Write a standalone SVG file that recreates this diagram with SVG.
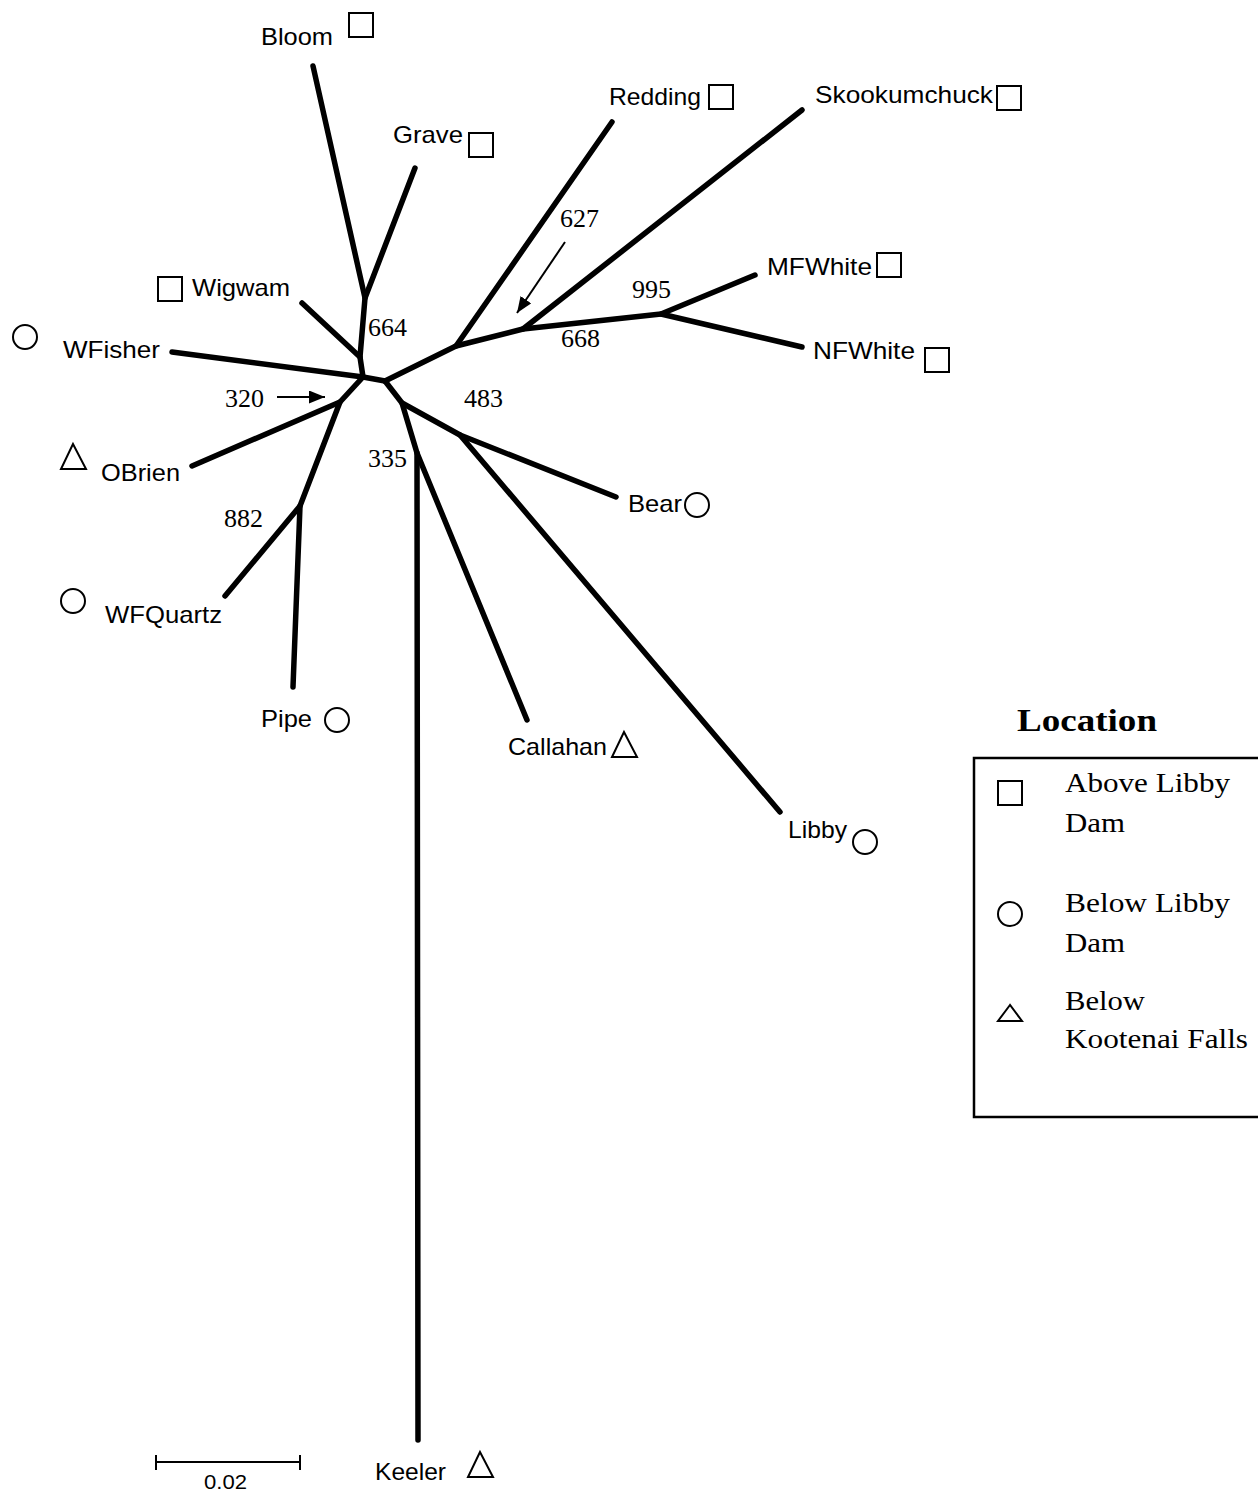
<svg xmlns="http://www.w3.org/2000/svg" width="1258" height="1494" viewBox="0 0 1258 1494">
<style>
.br{fill:none;stroke:#000;stroke-width:5.5;stroke-linecap:round;stroke-linejoin:round}
.lb{font-family:"Liberation Sans",Arial,sans-serif;font-size:24px;fill:#000}
.num{font-family:"Liberation Serif","Times New Roman",serif;font-size:26px;fill:#000}
.lg{font-family:"Liberation Serif","Times New Roman",serif;font-size:28px;fill:#000}
.sym{fill:none;stroke:#000;stroke-width:2}
.ar{stroke:#000;stroke-width:2;fill:none}
</style>
<defs>
<marker id="ah2" viewBox="0 0 16 13" refX="16" refY="6.5" markerWidth="16" markerHeight="13" markerUnits="userSpaceOnUse" orient="auto">
<path d="M0,0 L16,6.5 L0,13 z" fill="#000"/>
</marker>
</defs>
<rect width="1258" height="1494" fill="#fff"/>

<g id="connectors">
<polyline class="br" points="363,377 385,381"/>
<polyline class="br" points="363,377 360,357 365,298 313,66"/>
<polyline class="br" points="365,298 415,168"/>
<polyline class="br" points="360,357 302,303"/>
<polyline class="br" points="363,377 172,352"/>
<polyline class="br" points="363,377 340,402 192,466"/>
<polyline class="br" points="340,402 300,506 225,596"/>
<polyline class="br" points="300,506 293,687"/>
<polyline class="br" points="385,381 456,346 612,122"/>
<polyline class="br" points="456,346 523,329 802,110"/>
<polyline class="br" points="523,329 661,314 755,275"/>
<polyline class="br" points="661,314 802,347"/>
<polyline class="br" points="385,381 402,403 460,435 616,497"/>
<polyline class="br" points="460,435 780,812"/>
<polyline class="br" points="402,403 417,453 527,720"/>
<polyline class="br" points="417,453 418,1440"/>
<line class="ar" x1="277" y1="397" x2="325" y2="397" marker-end="url(#ah2)"/>
<line class="ar" x1="565" y1="242" x2="517" y2="313" marker-end="url(#ah2)"/>
</g>

<g id="node-bloom"><text class="lb" x="261" y="45" textLength="72" lengthAdjust="spacingAndGlyphs">Bloom</text><rect class="sym" x="349" y="13" width="24" height="24"/></g>
<g id="node-grave"><text class="lb" x="393" y="143" textLength="70" lengthAdjust="spacingAndGlyphs">Grave</text><rect class="sym" x="469" y="133" width="24" height="24"/></g>
<g id="node-redding"><text class="lb" x="609" y="105" textLength="92" lengthAdjust="spacingAndGlyphs">Redding</text><rect class="sym" x="709" y="85" width="24" height="24"/></g>
<g id="node-skookumchuck"><text class="lb" x="815" y="103" textLength="178" lengthAdjust="spacingAndGlyphs">Skookumchuck</text><rect class="sym" x="997" y="86" width="24" height="24"/></g>
<g id="node-mfwhite"><text class="lb" x="767" y="275" textLength="105" lengthAdjust="spacingAndGlyphs">MFWhite</text><rect class="sym" x="877" y="253" width="24" height="24"/></g>
<g id="node-nfwhite"><text class="lb" x="813" y="359" textLength="102" lengthAdjust="spacingAndGlyphs">NFWhite</text><rect class="sym" x="925" y="348" width="24" height="24"/></g>
<g id="node-wigwam"><rect class="sym" x="158" y="277" width="24" height="24"/><text class="lb" x="192" y="296" textLength="98" lengthAdjust="spacingAndGlyphs">Wigwam</text></g>
<g id="node-wfisher"><circle class="sym" cx="25" cy="337" r="12"/><text class="lb" x="63" y="358" textLength="97" lengthAdjust="spacingAndGlyphs">WFisher</text></g>
<g id="node-obrien"><polygon class="sym" points="73,444 61,469 86,469"/><text class="lb" x="101" y="481" textLength="79" lengthAdjust="spacingAndGlyphs">OBrien</text></g>
<g id="node-wfquartz"><circle class="sym" cx="73" cy="601" r="12"/><text class="lb" x="105" y="623" textLength="117" lengthAdjust="spacingAndGlyphs">WFQuartz</text></g>
<g id="node-pipe"><text class="lb" x="261" y="727" textLength="51" lengthAdjust="spacingAndGlyphs">Pipe</text><circle class="sym" cx="337" cy="720" r="12"/></g>
<g id="node-callahan"><text class="lb" x="508" y="755" textLength="99" lengthAdjust="spacingAndGlyphs">Callahan</text><polygon class="sym" points="624,732 612,757 637,757"/></g>
<g id="node-bear"><text class="lb" x="628" y="512" textLength="54" lengthAdjust="spacingAndGlyphs">Bear</text><circle class="sym" cx="697" cy="505" r="12"/></g>
<g id="node-libby"><text class="lb" x="788" y="838" textLength="59" lengthAdjust="spacingAndGlyphs">Libby</text><circle class="sym" cx="865" cy="842" r="12"/></g>
<g id="node-keeler"><text class="lb" x="375" y="1480" textLength="71" lengthAdjust="spacingAndGlyphs">Keeler</text><polygon class="sym" points="480,1452 468,1477 493,1477"/></g>

<g id="bootstrap-values">
<text class="num" x="368" y="336">664</text>
<text class="num" x="225" y="407">320</text>
<text class="num" x="464" y="407">483</text>
<text class="num" x="368" y="467">335</text>
<text class="num" x="224" y="527">882</text>
<text class="num" x="560" y="227">627</text>
<text class="num" x="632" y="298">995</text>
<text class="num" x="561" y="347">668</text>
</g>

<g id="scale-bar">
<line x1="156" y1="1462" x2="300" y2="1462" stroke="#000" stroke-width="2"/>
<line x1="156" y1="1455" x2="156" y2="1470" stroke="#000" stroke-width="2"/>
<line x1="300" y1="1455" x2="300" y2="1470" stroke="#000" stroke-width="2"/>
<text class="lb" x="204" y="1489" style="font-size:21px" textLength="43" lengthAdjust="spacingAndGlyphs">0.02</text>
</g>

<g id="legend">
<text x="1017" y="731" style="font-family:'Liberation Serif','Times New Roman',serif;font-size:32px;font-weight:bold" textLength="140" lengthAdjust="spacingAndGlyphs">Location</text>
<rect x="974" y="758" width="300" height="359" fill="none" stroke="#000" stroke-width="2.5"/>
<rect class="sym" x="998" y="781" width="24" height="24"/>
<text class="lg" x="1065" y="792" textLength="165" lengthAdjust="spacingAndGlyphs">Above Libby</text>
<text class="lg" x="1065" y="832" textLength="60" lengthAdjust="spacingAndGlyphs">Dam</text>
<circle class="sym" cx="1010" cy="914" r="12"/>
<text class="lg" x="1065" y="912" textLength="165" lengthAdjust="spacingAndGlyphs">Below Libby</text>
<text class="lg" x="1065" y="952" textLength="60" lengthAdjust="spacingAndGlyphs">Dam</text>
<polygon class="sym" points="1010,1005 998,1021 1022,1021"/>
<text class="lg" x="1065" y="1010" textLength="80" lengthAdjust="spacingAndGlyphs">Below</text>
<text class="lg" x="1065" y="1048" textLength="183" lengthAdjust="spacingAndGlyphs">Kootenai Falls</text>
</g>
</svg>
